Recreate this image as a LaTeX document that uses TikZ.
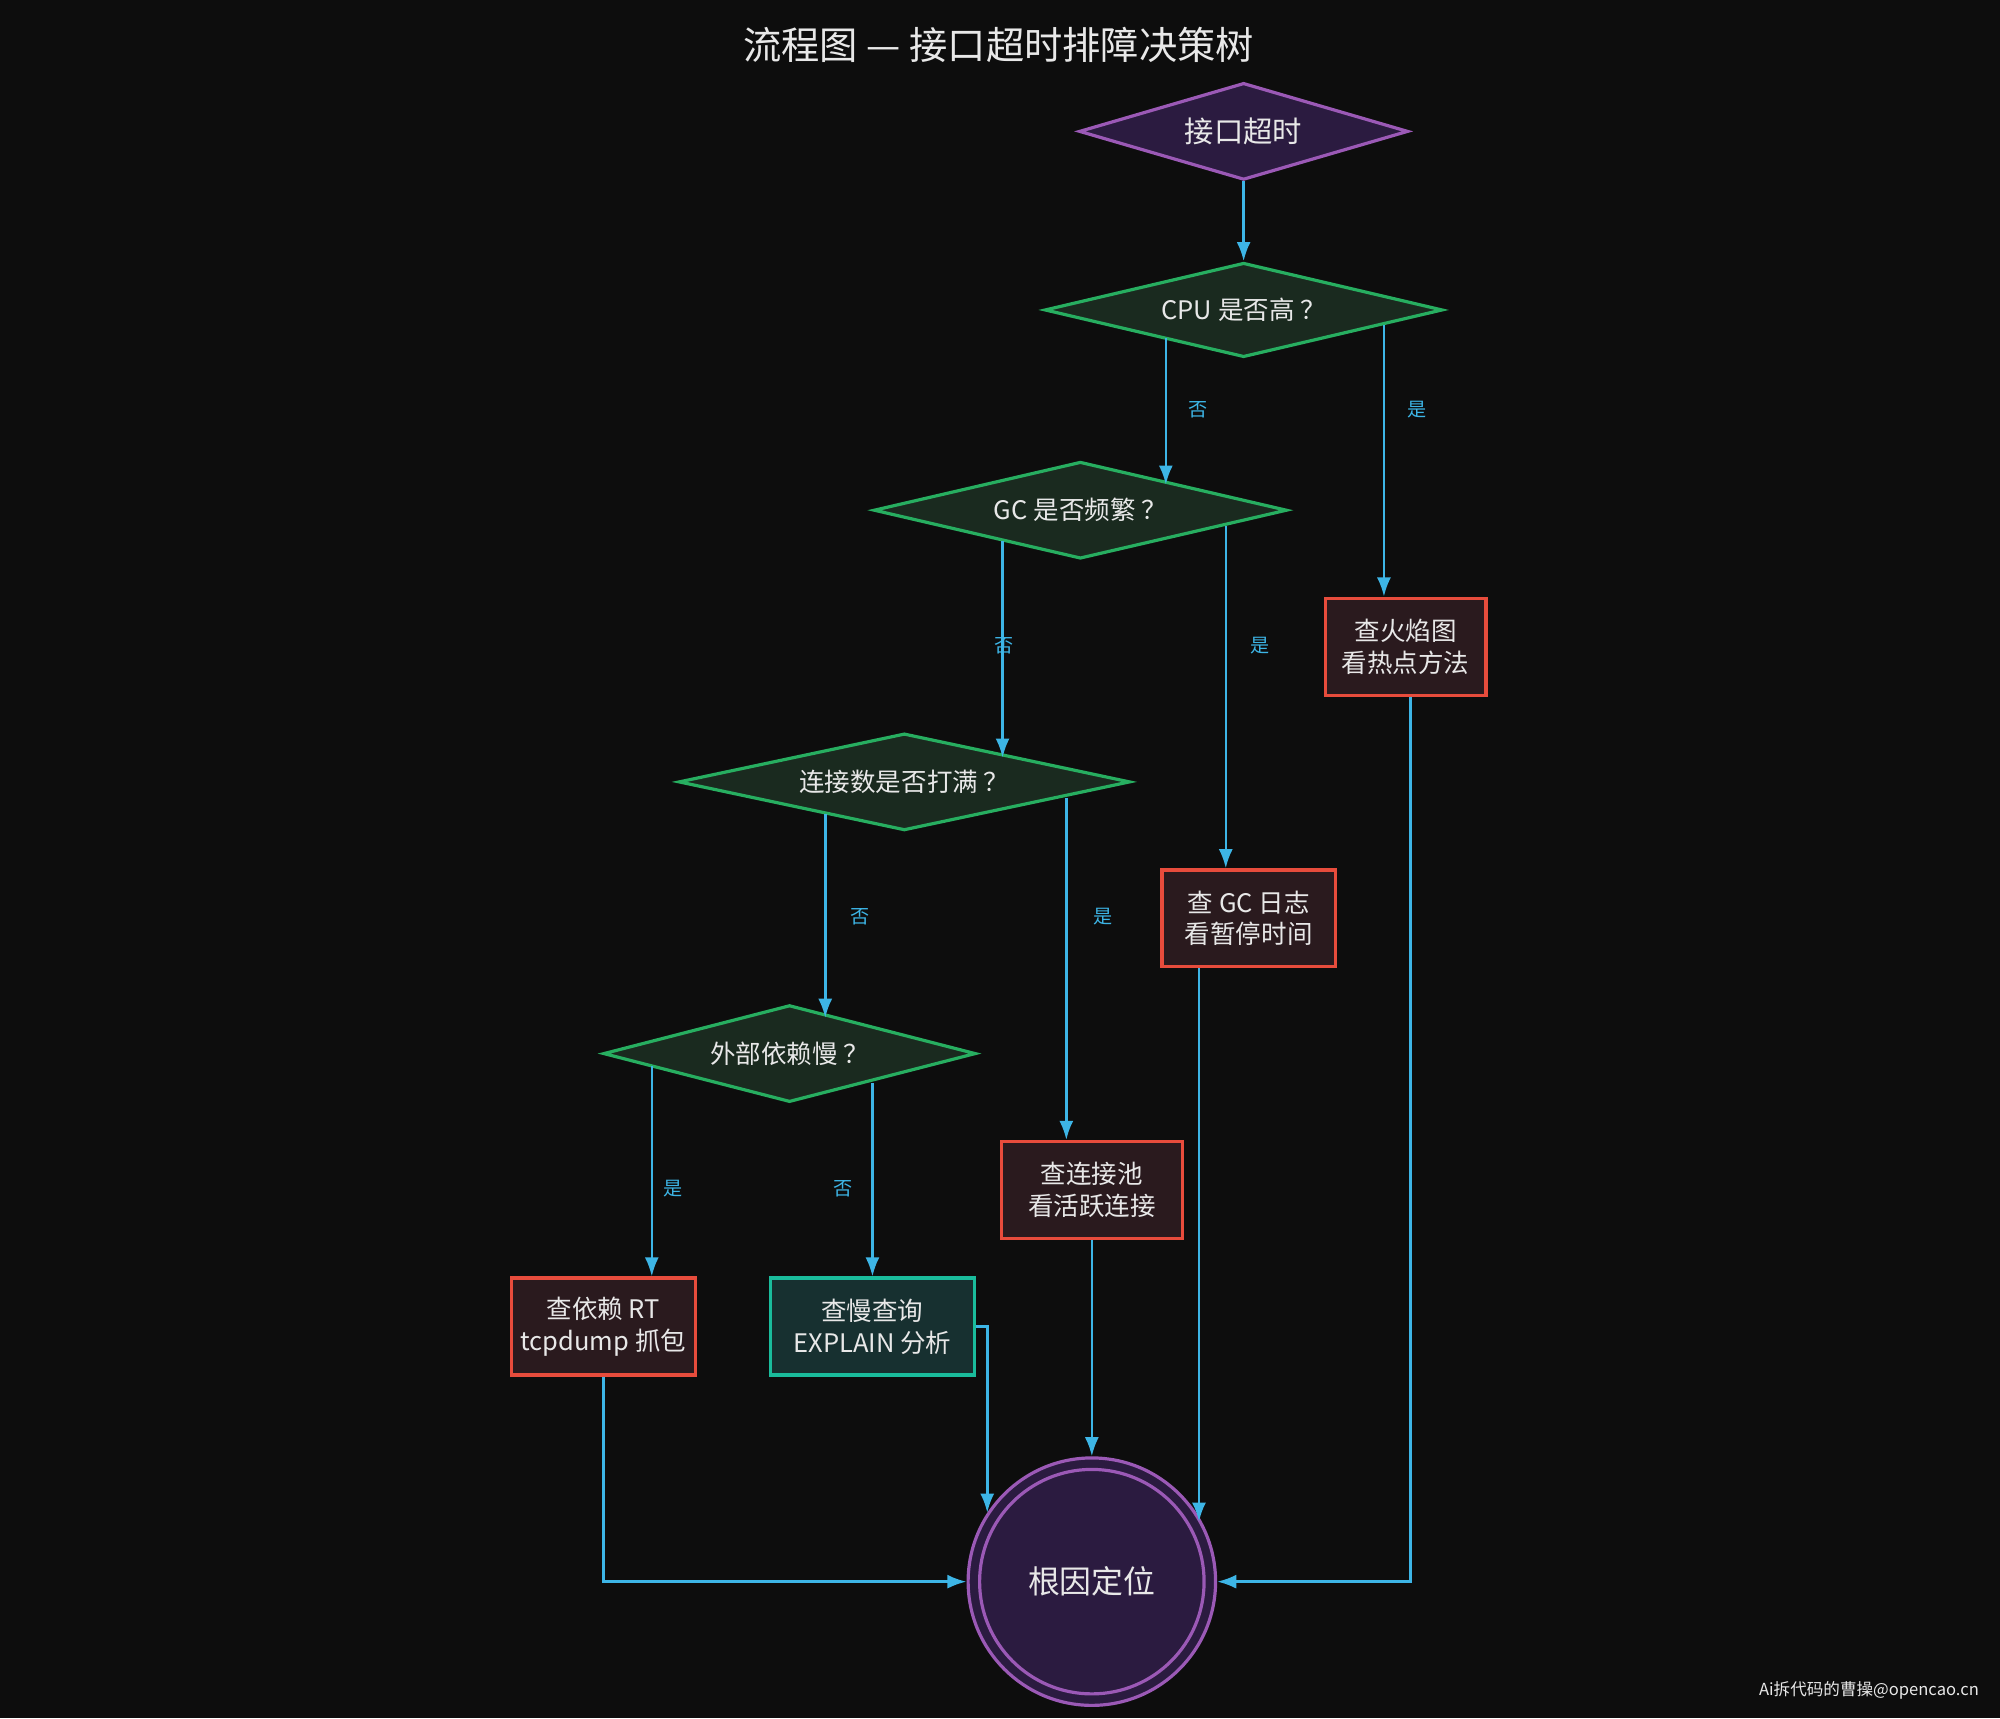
\documentclass[tikz,border=0pt]{standalone}
\usepackage{fontspec}
\setmainfont{Noto Sans CJK SC}
\usetikzlibrary{shapes.geometric,arrows.meta}
\definecolor{bg}{HTML}{0D0D0D}
\definecolor{edge}{HTML}{3DB5E6}
\definecolor{purp}{HTML}{9B59B6}
\definecolor{purpf}{HTML}{2B1B40}
\definecolor{grn}{HTML}{27AE60}
\definecolor{grnf}{HTML}{1A2A1F}
\definecolor{red}{HTML}{E74C3C}
\definecolor{redf}{HTML}{2A1A1E}
\definecolor{teal}{HTML}{1ABC9C}
\definecolor{tealf}{HTML}{173030}
\definecolor{txt}{HTML}{E8E8E8}
\begin{document}
\begin{tikzpicture}[x=1pt,y=-1pt,
 dia/.style={diamond,draw,line width=2.5pt,inner sep=0pt,text=txt,font=\fontsize{20}{24}\selectfont},
 gd/.style={dia,draw=grn,fill=grnf},
 box/.style={rectangle,draw,line width=2.5pt,text=txt,align=center,font=\fontsize{20}{25}\selectfont,minimum height=76pt,inner sep=2pt},
 rb/.style={box,draw=red,fill=redf},
 arr/.style={draw=edge,line width=2pt,-{Latex[length=15pt,width=11pt]}},
 lab/.style={text=edge,font=\fontsize{15}{18}\selectfont}]
\fill[bg] (0,0) rectangle (1568,1347);
\useasboundingbox (0,0) rectangle (1568,1347);
\node[text=txt,font=\fontsize{30}{36}\selectfont] (title) at (783,35) {流程图 — 接口超时排障决策树};
\node[dia,draw=purp,fill=purpf,aspect=3.39,minimum width=258pt,minimum height=76pt,font=\fontsize{23}{28}\selectfont] (start) at (975,103) {接口超时};
\node[gd,aspect=4.22,minimum width=312pt,minimum height=74pt] (cpu) at (975,243) {CPU 是否高 ？};
\node[gd,aspect=4.26,minimum width=324pt,minimum height=76pt] (gc) at (847,400) {GC 是否频繁 ？};
\node[gd,aspect=4.66,minimum width=354pt,minimum height=76pt] (conn) at (709,613) {连接数是否打满 ？};
\node[gd,aspect=3.84,minimum width=292pt,minimum height=76pt] (ext) at (619,826) {外部依赖慢 ？};
\node[rb,minimum width=126pt] (flame) at (1102,507) {查火焰图\\看热点方法};
\node[rb,minimum width=136pt] (gclog) at (979,720) {查 GC 日志\\看暂停时间};
\node[rb,minimum width=142pt] (pool) at (856,933) {查连接池\\看活跃连接};
\node[rb,minimum width=144pt] (dep) at (473,1040) {查依赖 RT\\tcpdump 抓包};
\node[box,draw=teal,fill=tealf,minimum width=160pt] (slow) at (684,1040) {查慢查询\\EXPLAIN 分析};
\node[circle,draw=purp,fill=purpf,line width=2.5pt,minimum size=194pt] (root) at (856,1240) {};
\draw[purp,line width=2.5pt] (root.center) circle (88);
\node[text=txt,font=\fontsize{25}{30}\selectfont] (rootlab) at (root.center) {根因定位};
\node[text=txt,font=\fontsize{13}{15}\selectfont,anchor=east] (wm) at (1555,1325) {Ai拆代码的曹操@opencao.cn};

\draw[arr] (start.south) -- (cpu.north);
\draw[arr] (914,265) -- (914,380);
\node[lab] (l1) at (939,321) {否};
\draw[arr] (1085,255) -- (flame.north -| 1085,0);
\node[lab] (l2) at (1111,321) {是};
\draw[arr] (786,424) -- (786,594);
\node[lab] (l3) at (787,506) {否};
\draw[arr] (961,412) -- (gclog.north -| 961,0);
\node[lab] (l4) at (988,506) {是};
\draw[arr] (647,638) -- (647,798);
\node[lab] (l5) at (674,719) {否};
\draw[arr] (836,626) -- (pool.north -| 836,0);
\node[lab] (l6) at (865,719) {是};
\draw[arr] (511,836) -- (dep.north -| 511,0);
\node[lab] (l7) at (528,932) {是};
\draw[arr] (684,849) -- (slow.north);
\node[lab] (l8) at (661,932) {否};
\draw[arr] (flame.south -| 1106,0) |- (root.east);
\draw[arr] (gclog.south -| 940,0) -- (940,1193);
\draw[arr] (pool.south) -- (root.north);
\draw[arr] (slow.east) -- (774,1040) -- (774,1186);
\draw[arr] (dep.south) |- (root.west);
\end{tikzpicture}
\end{document}
